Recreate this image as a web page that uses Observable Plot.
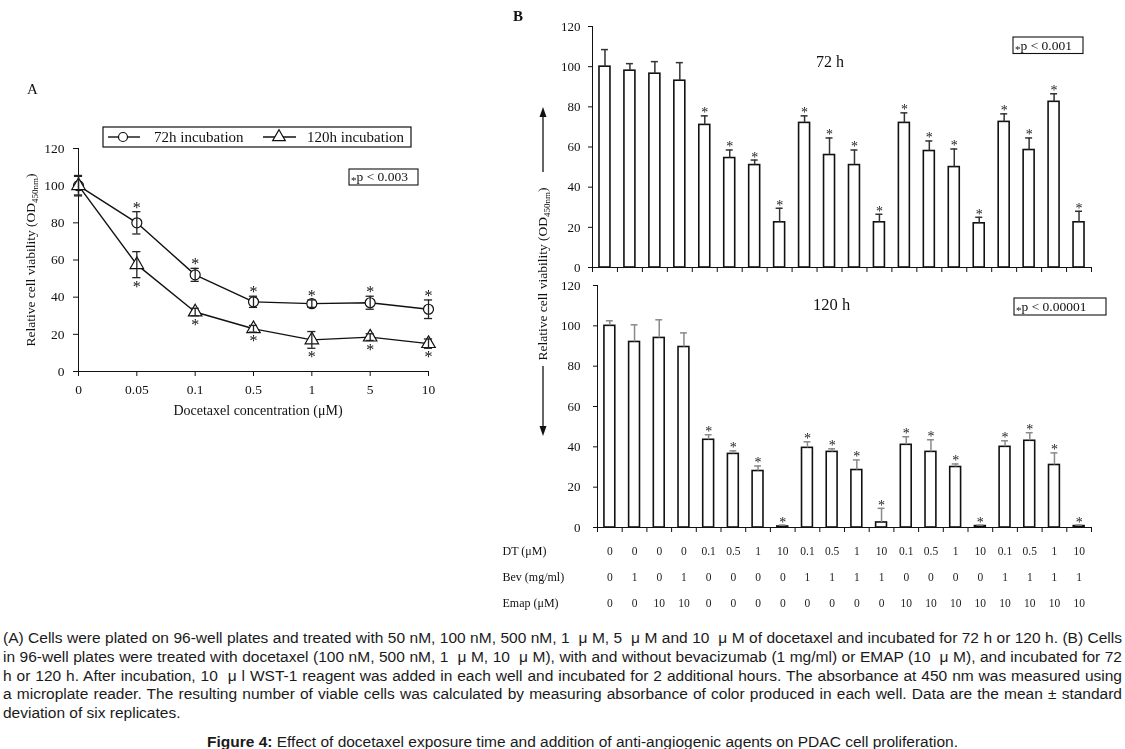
<!DOCTYPE html>
<html>
<head>
<meta charset="utf-8">
<script src="https://cdn.jsdelivr.net/npm/d3@7"></script>
<script src="https://cdn.jsdelivr.net/npm/@observablehq/plot@0.6"></script>
<style>
  html,body{margin:0;padding:0;background:#fff;}
  #page{position:relative;width:1125px;height:749px;overflow:hidden;background:#fff;}
  #wrap{position:absolute;left:0;top:0;width:1125px;height:625px;opacity:0.999;will-change:opacity;}
  #wrap > svg, #wrap > figure{position:absolute;left:0;top:0;margin:0;}
  #caption{position:absolute;left:3px;top:629px;width:1119px;font-family:"Liberation Sans",Arial,sans-serif;font-size:15.5px;line-height:18.8px;color:#1a1a1a;}
  .jl{text-align:justify;text-align-last:justify;}
  #title{position:absolute;left:0;top:733px;width:1125px;padding-left:40px;box-sizing:border-box;text-align:center;font-family:"Liberation Sans",Arial,sans-serif;font-size:15.5px;line-height:18.8px;color:#1a1a1a;}
</style>
</head>
<body>
<div id="page">
  <div id="wrap"></div>
  <div id="caption">
    <div class="jl">(A) Cells were plated on 96-well plates and treated with 50 nM, 100 nM, 500 nM, 1 &nbsp;μ M, 5 &nbsp;μ M and 10 &nbsp;μ M of docetaxel and incubated for 72 h or 120 h. (B) Cells</div>
    <div class="jl">in 96-well plates were treated with docetaxel (100 nM, 500 nM, 1 &nbsp;μ M, 10 &nbsp;μ M), with and without bevacizumab (1 mg/ml) or EMAP (10 &nbsp;μ M), and incubated for 72</div>
    <div class="jl">h or 120 h. After incubation, 10 &nbsp;μ l WST-1 reagent was added in each well and incubated for 2 additional hours. The absorbance at 450 nm was measured using</div>
    <div class="jl">a microplate reader. The resulting number of viable cells was calculated by measuring absorbance of color produced in each well. Data are the mean ± standard</div>
    <div>deviation of six replicates.</div>
  </div>
  <div id="title"><b>Figure 4:</b> Effect of docetaxel exposure time and addition of anti-angiogenic agents on PDAC cell proliferation.</div>
</div>
<script>
// ---------- Panel A data ----------
const doses   = ["0", "0.05", "0.1", "0.5", "1", "5", "10"];
const via72   = [100, 80, 52, 37.5, 36.5, 37, 33.5];
const sd72    = [5, 6, 3.5, 3, 2, 3.5, 5];
const via120  = [100, 57.5, 32, 23, 17, 18.5, 15];
const sd120   = [5.5, 7, 2, 1.8, 4.5, 1.8, 2.5];
const sigA    = [false, true, true, true, true, true, true];

// ---------- Panel B data ----------
const dtConc   = ["0","0","0","0","0.1","0.5","1","10","0.1","0.5","1","10","0.1","0.5","1","10","0.1","0.5","1","10"];
const bevConc  = ["0","1","0","1","0","0","0","0","1","1","1","1","0","0","0","0","1","1","1","1"];
const emapConc = ["0","0","10","10","0","0","0","0","0","0","0","0","10","10","10","10","10","10","10","10"];
const mean72h  = [100, 98, 96.5, 93, 71, 54.5, 51, 22.5, 72, 56, 51, 22.5, 72, 58, 50, 22, 72.5, 58.5, 82.5, 22.5];
const sd72h    = [8.5, 3.5, 6, 9, 4.5, 4, 2.5, 7, 3.5, 8.5, 7.5, 4, 5, 5, 9, 3, 4, 6, 4, 5.5];
const mean120h = [100, 92, 94, 89.5, 43.5, 36.5, 28, 0.5, 39.5, 37.5, 28.5, 2.5, 41, 37.5, 30, 0.7, 40, 43, 31, 0.7];
const sd120h   = [2.5, 8.5, 9, 7, 2.5, 1.5, 2.5, 0.7, 3, 1.5, 5, 7, 4, 6, 1.5, 0.5, 3, 4, 6, 0.5];
const rowNames = ["DT (μM)", "Bev (mg/ml)", "Emap (μM)"];
const yTicks   = [0, 20, 40, 60, 80, 100, 120];

const serif = "'Liberation Serif','Times New Roman',serif";
const ink = "#111";
const wrap = document.getElementById("wrap");

// ---------- Panel A ----------
const aRows = doses.map((d, k) => ({k, dose: d, v72: via72[k], s72: sd72[k], v120: via120[k], s120: sd120[k], sig: sigA[k]}));
const errA = {stroke: "#222", strokeWidth: 1.3};
const capA = 0.07;
const plotA = Plot.plot({
  width: 460, height: 430,
  marginLeft: 78, marginRight: 32, marginTop: 148, marginBottom: 59,
  x: {domain: [0, doses.length - 1]},
  y: {domain: [0, 120]},
  style: {fontFamily: serif, fontSize: "13.5px", background: "transparent", color: ink},
  marks: [
    Plot.axisY({ticks: yTicks, tickSize: 5, tickPadding: 9, fontSize: 13.5, label: null}),
    Plot.axisX({ticks: d3.range(doses.length), tickFormat: i => doses[i], tickSize: 5, tickPadding: 8, fontSize: 13.5, label: null}),
    Plot.ruleY([0], {stroke: ink}),
    Plot.ruleX([0], {y1: 0, y2: 120, stroke: ink}),
    Plot.line(aRows, {x: "k", y: "v72", stroke: ink, strokeWidth: 1.4}),
    Plot.line(aRows, {x: "k", y: "v120", stroke: ink, strokeWidth: 1.4}),
    Plot.dot(aRows, {x: "k", y: "v72", r: 5, fill: "white", stroke: ink, strokeWidth: 1.2}),
    Plot.dot(aRows, {x: "k", y: "v120", symbol: "triangle", r: 5, fill: "white", stroke: ink, strokeWidth: 1.2}),
    Plot.ruleX(aRows, {x: "k", y1: d => d.v72 - d.s72, y2: d => d.v72 + d.s72, ...errA}),
    Plot.ruleY(aRows, {y: d => d.v72 + d.s72, x1: d => d.k - capA, x2: d => d.k + capA, ...errA}),
    Plot.ruleY(aRows, {y: d => d.v72 - d.s72, x1: d => d.k - capA, x2: d => d.k + capA, ...errA}),
    Plot.ruleX(aRows, {x: "k", y1: d => d.v120 - d.s120, y2: d => d.v120 + d.s120, ...errA}),
    Plot.ruleY(aRows, {y: d => d.v120 + d.s120, x1: d => d.k - capA, x2: d => d.k + capA, ...errA}),
    Plot.ruleY(aRows, {y: d => d.v120 - d.s120, x1: d => d.k - capA, x2: d => d.k + capA, ...errA}),
    Plot.text(aRows.filter(d => d.sig), {x: "k", y: d => d.v72 + d.s72, text: () => "*", dy: -4, fontSize: 16, fill: ink}),
    Plot.text(aRows.filter(d => d.sig), {x: "k", y: d => d.v120 - d.s120, text: () => "*", dy: 9, fontSize: 16, fill: ink})
  ]
});
wrap.appendChild(plotA);

// ---------- Panel B ----------
const bRows = dtConc.map((dt, i) => ({
  i, dt, bev: bevConc[i], emap: emapConc[i],
  m72: mean72h[i], s72: sd72h[i], m120: mean120h[i], s120: sd120h[i],
  sig: dt !== "0"
}));

function barPanel(mKey, sKey, o) {
  return Plot.plot({
    width: 1125, height: o.height,
    marginLeft: o.left, marginRight: 34, marginTop: o.top, marginBottom: 13,
    x: {domain: [0, 20]},
    y: {domain: [0, 120]},
    style: {fontFamily: serif, fontSize: "13px", background: "transparent", color: ink},
    marks: [
      Plot.axisY({ticks: yTicks, tickSize: 4, tickPadding: o.pad, fontSize: 13, label: null}),
      Plot.axisX({ticks: d3.range(0, 21), tickSize: 5, tickFormat: () => "", label: null}),
      Plot.rect(bRows, {x1: d => d.i + 0.28, x2: d => d.i + 0.72, y1: 0, y2: mKey, fill: "white", stroke: ink, strokeWidth: 1.6}),
      Plot.ruleX(bRows, {x: d => d.i + 0.5, y1: mKey, y2: d => d[mKey] + d[sKey], stroke: o.err, strokeWidth: 1.5}),
      Plot.ruleY(bRows, {y: d => d[mKey] + d[sKey], x1: d => d.i + 0.36, x2: d => d.i + 0.64, stroke: o.err, strokeWidth: 1.5}),
      Plot.text(bRows.filter(d => d.sig), {x: d => d.i + 0.5, y: d => d[mKey] + d[sKey], text: () => "*", dy: -3, fontSize: 14, fill: "#222"}),
      Plot.ruleY([0], {stroke: ink}),
      Plot.ruleX([0], {y1: 0, y2: 120, stroke: ink})
    ]
  });
}
wrap.appendChild(barPanel("m72", "s72", {height: 280, top: 26, left: 592, pad: 8, err: "#333"}));
wrap.appendChild(barPanel("m120", "s120", {height: 540, top: 285, left: 597, pad: 13, err: "#8a8a8a"}));

// ---------- Treatment table ----------
const tRows = bRows.flatMap(d => [
  {i: d.i, row: rowNames[0], v: d.dt},
  {i: d.i, row: rowNames[1], v: d.bev},
  {i: d.i, row: rowNames[2], v: d.emap}
]);
wrap.appendChild(Plot.plot({
  width: 1125, height: 620,
  marginLeft: 597, marginRight: 34, marginTop: 550, marginBottom: 17,
  x: {domain: [0, 20], axis: null},
  y: {type: "point", domain: rowNames, padding: 0},
  style: {fontFamily: serif, fontSize: "12px", background: "transparent", color: ink},
  marks: [
    Plot.axisY({tickSize: 0, tickPadding: 95, textAnchor: "start", fontSize: 12, label: null}),
    Plot.text(tRows, {x: d => d.i + 0.5, y: "row", text: "v", fontSize: 11.5, fill: "#222"})
  ]
}));

// ---------- Annotations ----------
const svg = d3.select(wrap).append("svg")
  .attr("width", 1125).attr("height", 625)
  .style("position", "absolute").style("left", "0px").style("top", "0px");
const g = svg.append("g").attr("font-family", serif).attr("fill", ink);

g.append("text").attr("x", 27).attr("y", 94).attr("font-size", 15).text("A");
g.append("text").attr("x", 513).attr("y", 21).attr("font-size", 15).attr("font-weight", "bold").text("B");

g.append("rect").attr("x", 103).attr("y", 127).attr("width", 308).attr("height", 20)
  .attr("fill", "white").attr("stroke", ink).attr("stroke-width", 1.2);
g.append("line").attr("x1", 108).attr("x2", 140).attr("y1", 137).attr("y2", 137).attr("stroke", ink).attr("stroke-width", 1.4);
g.append("circle").attr("cx", 123).attr("cy", 137).attr("r", 4.5).attr("fill", "white").attr("stroke", ink).attr("stroke-width", 1.2);
g.append("text").attr("x", 154).attr("y", 142).attr("font-size", 15).text("72h incubation");
g.append("line").attr("x1", 263).attr("x2", 296).attr("y1", 137).attr("y2", 137).attr("stroke", ink).attr("stroke-width", 1.4);
g.append("path").attr("d", d3.symbol(d3.symbolTriangle, Math.PI * 22)()).attr("transform", "translate(279,137)")
  .attr("fill", "white").attr("stroke", ink).attr("stroke-width", 1.2);
g.append("text").attr("x", 307).attr("y", 142).attr("font-size", 15).text("120h incubation");

function pBox(x, y, w, h, label) {
  g.append("rect").attr("x", x).attr("y", y).attr("width", w).attr("height", h)
    .attr("fill", "white").attr("stroke", ink).attr("stroke-width", 1.1);
  const t = g.append("text").attr("x", x + 2).attr("y", y + h - 4).attr("font-size", 13.5);
  t.append("tspan").attr("font-size", 11).attr("dy", 3).text("*");
  t.append("tspan").attr("dy", -3).text(label);
}
pBox(349, 169, 69, 16, "p < 0.003");
pBox(1013, 37, 70, 16.5, "p < 0.001");
pBox(1014, 298, 92, 17, "p < 0.00001");

g.append("text").attr("x", 816).attr("y", 67).attr("font-size", 16).text("72 h");
g.append("text").attr("x", 813).attr("y", 310).attr("font-size", 16.5).text("120 h");

function yTitle(x, y) {
  const t = g.append("text").attr("transform", `translate(${x},${y}) rotate(-90)`)
    .attr("text-anchor", "middle").attr("font-size", 13.5);
  t.append("tspan").text("Relative cell viability (OD");
  t.append("tspan").attr("font-size", 9).attr("dy", 3).text("450nm");
  t.append("tspan").attr("dy", -3).text(")");
}
yTitle(35, 260);
yTitle(547, 274);
g.append("text").attr("x", 258).attr("y", 415).attr("text-anchor", "middle").attr("font-size", 14)
  .text("Docetaxel concentration (μM)");

g.append("line").attr("x1", 543).attr("x2", 543).attr("y1", 172).attr("y2", 115).attr("stroke", ink).attr("stroke-width", 1.3);
g.append("path").attr("d", "M543,107 L539.5,117 L546.5,117 Z").attr("fill", ink);
g.append("line").attr("x1", 543).attr("x2", 543).attr("y1", 366).attr("y2", 428).attr("stroke", ink).attr("stroke-width", 1.3);
g.append("path").attr("d", "M543,436 L539.5,426 L546.5,426 Z").attr("fill", ink);
</script>
</body>
</html>
